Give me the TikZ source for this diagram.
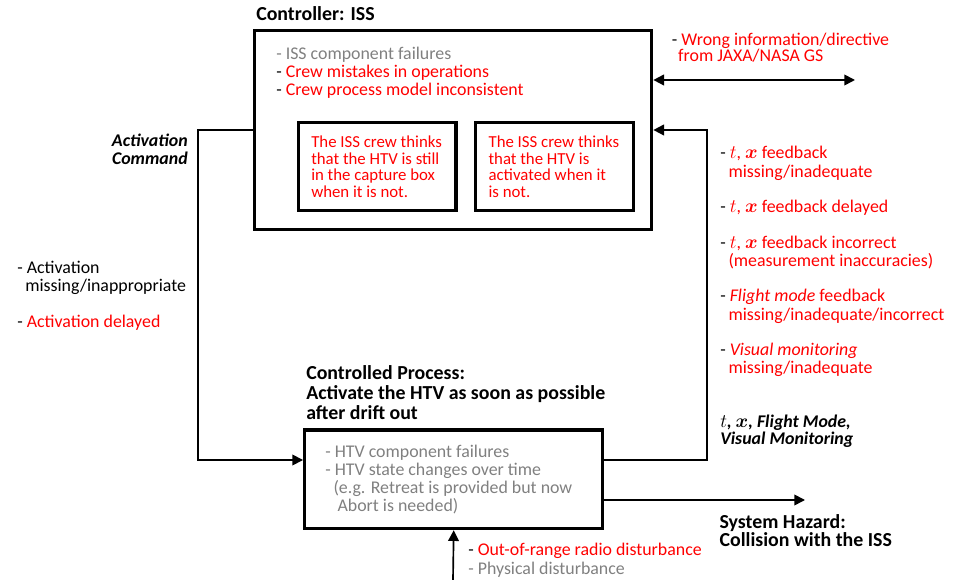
\documentclass[tikz,border=0pt]{standalone}
\usepackage{fontspec}
\setmainfont{Carlito}
\usepackage{amsmath}
\usetikzlibrary{arrows.meta, positioning}

\definecolor{hazred}{RGB}{255,0,0}
\definecolor{factgray}{RGB}{128,128,128}
\newcommand{\itemdash}{\textcolor{black}{-} }
\newcommand{\tx}{$t$, $\boldsymbol{x}$}
\newcommand{\tightlines}{\lineskiplimit-100pt\relax}

\begin{document}
\begin{tikzpicture}[x=0.75pt, y=-0.75pt,
    box/.style={draw, line width=2.5pt, inner sep=0pt},
    link/.style={line width=1.25pt},
    tip/.style={-{Triangle[length=8pt, width=8pt]}},
    body/.style={inner sep=0pt, anchor=base west, align=left,
      font=\fontsize{13.4}{13.5}\selectfont\tightlines},
    head/.style={body, font=\fontsize{14.9}{15}\selectfont\tightlines\bfseries}]
\useasboundingbox (0,0) rectangle (957,580);

% controller and process boxes
\node[box, minimum width=298pt, minimum height=149pt] (ctrl) at (453,130) {};
\node[box, minimum width=118pt, minimum height=66pt] (belief1) at (377.3,166.3) {};
\node[box, minimum width=118.8pt, minimum height=66pt] (belief2) at (554.5,166.3) {};
\node[box, minimum width=223.5pt, minimum height=74pt] (proc) at (453.7,479.3) {};

% texts of the controller (nodes sit on the baseline of their last line)
\node[head] (ctrlTitle) at (256,21) {Controller: ISS};
\node[body, text=factgray, font=\fontsize{13.4}{13.4}\selectfont\tightlines] (ctrlFacts) at (276,95.5) {- ISS component failures\\
  \itemdash\textcolor{hazred}{Crew mistakes in operations}\\
  \itemdash\textcolor{hazred}{Crew process model inconsistent}};
\node[body, text=hazred, font=\fontsize{12.6}{12.5}\selectfont\tightlines] (belief1Text) at (311,197.5) {The ISS crew thinks\\ that the HTV is still\\ in the capture box\\ when it is not.};
\node[body, text=hazred, font=\fontsize{12.6}{12.5}\selectfont\tightlines] (belief2Text) at (488.3,197.5) {The ISS crew thinks\\ that the HTV is\\ activated when it\\ is not.};

% texts of the controlled process
\node[head] (procTitle) at (306,420) {Controlled Process:\\ Activate the HTV as soon as possible\\ after drift out};
\node[body, text=factgray, font=\fontsize{13.4}{13.6}\selectfont\tightlines] (procFacts) at (325,511.7) {- HTV component failures\\
  - HTV state changes over time\\
  \hspace{6.2pt}(e.g. Retreat is provided but now\\
  \hspace{9.2pt}Abort is needed)};

% control action
\node[body, anchor=base east, align=right, font=\fontsize{13.4}{13.2}\selectfont\tightlines\bfseries\itshape] (cmdLabel) at (188,164.3) {Activation\\ Command};
\node[body, font=\fontsize{13.4}{13.8}\selectfont\tightlines] (cmdFlaws) at (17,327.3) {- Activation\\ \hspace{6pt}missing/inappropriate\\[12.9pt]
  \itemdash\textcolor{hazred}{Activation delayed}};

% feedback
\node[body, text=hazred, font=\fontsize{13.4}{13.7}\selectfont\tightlines] (fbFlaws) at (720,373.3) {\itemdash\tx{} feedback\\ \hspace{6.2pt}missing/inadequate\\[12.5pt]
  \itemdash\tx{} feedback delayed\\[13.7pt]
  \itemdash\tx{} feedback incorrect\\ \hspace{6.2pt}(measurement inaccuracies)\\[12.5pt]
  \itemdash\textit{Flight mode} feedback\\ \hspace{6.2pt}missing/inadequate/incorrect\\[12.5pt]
  \itemdash\textit{Visual monitoring}\\ \hspace{6.2pt}missing/inadequate};
\node[body, font=\fontsize{13.4}{12.75}\selectfont\tightlines\bfseries\itshape] (fbLabel) at (720,445) {\tx, Flight Mode,\\ Visual Monitoring};

% ground station
\node[body, text=hazred, font=\fontsize{13.4}{12.5}\selectfont\tightlines] (gsFlaw) at (671.7,61.7) {\itemdash Wrong information/directive\\ \hspace{4.7pt}from JAXA/NASA GS};

% disturbances and hazard
\node[body, font=\fontsize{13.4}{14.25}\selectfont\tightlines] (distFlaws) at (468,575) {- \textcolor{hazred}{Out-of-range radio disturbance}\\ \textcolor{factgray}{- Physical disturbance}};
\node[head, font=\fontsize{14.9}{13.8}\selectfont\tightlines\bfseries] (hazard) at (719.3,546.7) {System Hazard:\\ Collision with the ISS};

% connectors
\coordinate (cmdCorner) at (198,460);
\coordinate (fbCorner) at (707,460);
\coordinate (hazardEnd) at (805,500);
\coordinate (gsEnd) at (855,80);
\coordinate (distStart) at (453,580);
\draw[link, tip] (ctrl.west) -| (cmdCorner) -- (proc.west |- cmdCorner);
\draw[link, tip] (proc.east |- fbCorner) -- (fbCorner) |- (ctrl.east);
\draw[link, tip] (proc.east |- hazardEnd) -- (hazardEnd);
\draw[link, {Triangle[length=8pt, width=8pt]}-{Triangle[length=8pt, width=8pt]}] (ctrl.east |- gsEnd) -- (gsEnd);
\draw[link, tip] (distStart) -- (proc.south);

\end{tikzpicture}
\end{document}
